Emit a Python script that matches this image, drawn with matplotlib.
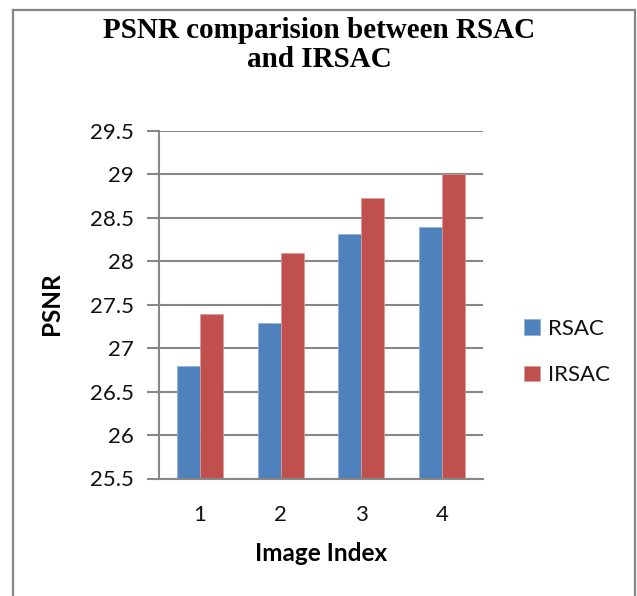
import matplotlib
matplotlib.use("Agg")
import matplotlib.pyplot as plt
import numpy as np

categories = ["1", "2", "3", "4"]
rsac = [26.80, 27.29, 28.31, 28.40]
irsac = [27.39, 28.10, 28.73, 29.01]
yticks = [25.5, 26, 26.5, 27, 27.5, 28, 28.5, 29, 29.5]
ytick_labels = ["25.5", "26", "26.5", "27", "27.5", "28", "28.5", "29", "29.5"]

W, H = 637, 596
fig = plt.figure(figsize=(W / 100, H / 100), dpi=100)
fig.patch.set_facecolor("white")

# outer chart border (open at the bottom)
gray = "#878787"
fig.add_artist(plt.Line2D([13 / W, 13 / W], [0, 1 - 10 / H], color=gray, lw=1.6, transform=fig.transFigure))
fig.add_artist(plt.Line2D([13 / W, 635 / W], [1 - 10 / H, 1 - 10 / H], color=gray, lw=1.6, transform=fig.transFigure))
fig.add_artist(plt.Line2D([635 / W, 635 / W], [0, 1 - 10 / H], color=gray, lw=1.6, transform=fig.transFigure))

left, right = 159.3 / W, 482.7 / W
bottom, top = 1 - 478.5 / H, 1 - 131 / H
ax = fig.add_axes([left, bottom, right - left, top - bottom])

x = np.arange(len(categories))
bw = 0.285
blue = "#4F81BD"
red = "#C0504D"
ax.bar(x - bw / 2, [v - 25.5 for v in rsac], bw, bottom=25.5, color=blue, edgecolor="#8FB0DA", linewidth=0.5, label="RSAC", zorder=3)
ax.bar(x + bw / 2, [v - 25.5 for v in irsac], bw, bottom=25.5, color=red, edgecolor="#DE9A98", linewidth=0.5, label="IRSAC", zorder=3)

ax.set_xlim(-0.5, len(categories) - 0.5)
ax.set_ylim(25.5, 29.5)
ax.set_yticks(yticks)
ax.set_yticklabels(ytick_labels)
ax.set_xticks(x)
ax.set_xticklabels(categories)

ax.grid(axis="y", color=gray, lw=1.5, zorder=0)
for s in ["top", "right"]:
    ax.spines[s].set_visible(False)
ax.spines["left"].set_color(gray)
ax.spines["left"].set_linewidth(1.5)
ax.spines["bottom"].set_color(gray)
ax.spines["bottom"].set_linewidth(1.5)
ax.spines["bottom"].set_zorder(4)

tick_font = "Lato"
ax.tick_params(axis="y", length=8.5, width=1.5, color=gray, pad=10, labelsize=16)
ax.tick_params(axis="x", length=0, pad=19, labelsize=16)
for lab in ax.get_xticklabels() + ax.get_yticklabels():
    lab.set_fontfamily(tick_font)
    lab.set_color("#111111")

ax.set_xlabel("Image Index", fontfamily=tick_font, fontweight="bold", fontsize=17.5, labelpad=12)
ax.set_ylabel("PSNR", fontfamily=tick_font, fontweight="bold", fontsize=17.5)
ax.yaxis.set_label_coords((63 - 159.3) / (482.7 - 159.3), (478.5 - 304) / (478.5 - 131))

fig.text(319 / W, 1 - 45 / H, "PSNR comparision between RSAC\nand IRSAC", ha="center", va="center",
         fontfamily="Liberation Serif", fontweight="bold", fontsize=21, linespacing=1.12)

leg = ax.legend(loc="center left", bbox_to_anchor=(524 / W, 1 - 352 / H), bbox_transform=fig.transFigure,
                frameon=False, prop={"family": tick_font, "size": 16}, handlelength=0.7, handleheight=0.7,
                handletextpad=0.4, labelspacing=1.2, borderpad=0, borderaxespad=0)
for t in leg.get_texts():
    t.set_color("#111111")

fig.savefig("out.png", dpi=100, facecolor="white")
